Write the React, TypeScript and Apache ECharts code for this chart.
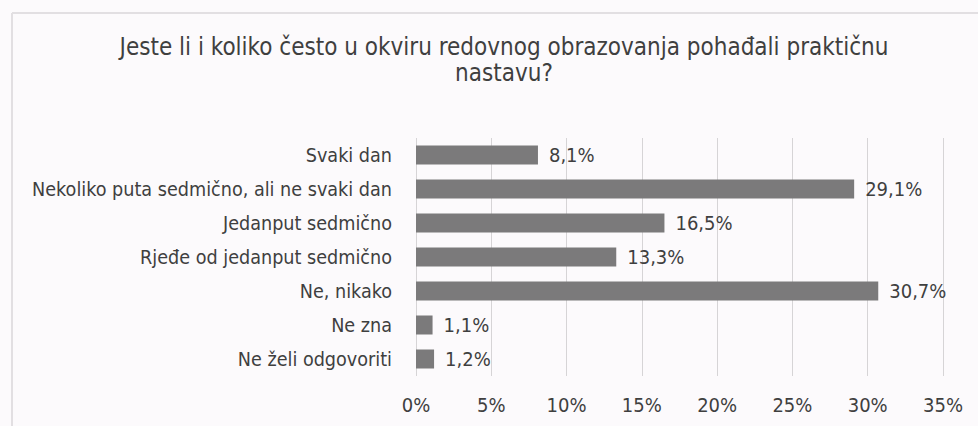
import React, { useEffect, useRef } from "react";
import * as echarts from "echarts";

const categories = [
  "Svaki dan",
  "Nekoliko puta sedmično, ali ne svaki dan",
  "Jedanput sedmično",
  "Rjeđe od jedanput sedmično",
  "Ne, nikako",
  "Ne zna",
  "Ne želi odgovoriti",
];
const values = [8.1, 29.1, 16.5, 13.3, 30.7, 1.1, 1.2];
const axisTicks = [0, 5, 10, 15, 20, 25, 30, 35];
const titleText = "Jeste li i koliko često u okviru redovnog obrazovanja pohađali praktičnu\nnastavu?";

const FONT = "'Liberation Sans Narrow', 'DejaVu Sans Condensed', sans-serif";
const TEXT = "#3f3f3f";

export default function App() {
  const ref = useRef<HTMLDivElement>(null);
  useEffect(() => {
    document.body.style.margin = "0";
    document.body.style.background = "#fcfafc";
    const chart = echarts.init(ref.current!, null, { renderer: "svg" });
    chart.setOption({
      animation: false,
      backgroundColor: "#fcfafc",
      textStyle: { fontFamily: FONT },
      title: {
        text: titleText,
        left: 499,
        top: 29,
        textAlign: "center",
        textStyle: { fontFamily: FONT, fontSize: 24, fontWeight: "normal", color: TEXT, lineHeight: 26 },
      },
      graphic: [
        { type: "line", shape: { x1: 12, y1: 13, x2: 978, y2: 13 }, style: { stroke: "#e2dfe2", lineWidth: 2 } },
        { type: "line", shape: { x1: 12, y1: 13, x2: 12, y2: 426 }, style: { stroke: "#e2dfe2", lineWidth: 2 } },
      ],
      grid: { left: 416, right: 35, top: 138, bottom: 50, containLabel: false },
      xAxis: {
        type: "value",
        min: axisTicks[0],
        max: axisTicks[axisTicks.length - 1],
        interval: 5,
        axisLine: { show: false },
        axisTick: { show: false },
        axisLabel: { formatter: "{value}%", fontFamily: FONT, fontSize: 20, color: TEXT, margin: 19 },
        splitLine: { show: true, lineStyle: { color: "#d6d4d6", width: 1 } },
      },
      yAxis: {
        type: "category",
        data: categories,
        inverse: true,
        axisLine: { show: false },
        axisTick: { show: false },
        axisLabel: { fontFamily: FONT, fontSize: 19.6, color: TEXT, margin: 24 },
      },
      series: [
        {
          type: "bar",
          data: values,
          barWidth: 19,
          itemStyle: { color: "#7b7a7b" },
          label: {
            show: true,
            position: "right",
            distance: 11,
            fontFamily: FONT,
            fontSize: 20,
            color: TEXT,
            formatter: (p: any) => p.value.toFixed(1).replace(".", ",") + "%",
          },
        },
      ],
    });
    return () => chart.dispose();
  }, []);
  return <div ref={ref} style={{ width: 978, height: 426 }} />;
}
